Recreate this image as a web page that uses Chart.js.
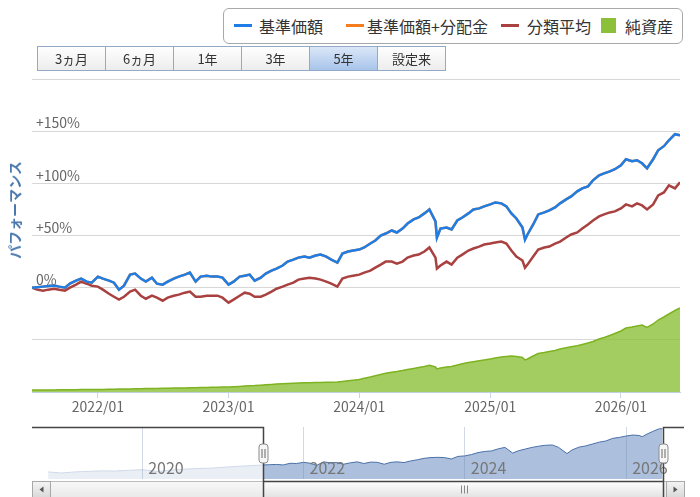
<!DOCTYPE html>
<html lang="ja">
<head>
<meta charset="utf-8">
<script src="https://cdn.jsdelivr.net/npm/chart.js@4.4.1/dist/chart.umd.min.js"></script>
<style>
  body { margin: 0; background: #fff; font-family: 'Noto Sans CJK JP', 'Noto Sans', sans-serif; }
  #wrap { position: relative; width: 700px; height: 497px; overflow: hidden; }
  #main { position: absolute; left: 0; top: 0; }
  #nav { position: absolute; left: 0; top: 420px; }
  .legend { position: absolute; left: 223px; top: 8px; width: 458px; height: 34px;
            border: 1px solid #a8a8a8; border-radius: 6px; font-size: 16px; color: #333; z-index: 2; background: #fff; }
  .legend .it { position: absolute; top: 0; line-height: 34px; white-space: nowrap; }
  .legend .ln { position: absolute; top: 15px; width: 18px; height: 3px; }
  .legend .sq { position: absolute; top: 9px; width: 15px; height: 15px; }
  .btns { position: absolute; left: 38px; top: 46px; display: flex; z-index: 2; }
  .btns div { width: 67px; height: 23px; line-height: 23px; text-align: center; font-size: 13px; color: #333;
              border: 1px solid #93a9c8; margin-left: -1px; background: linear-gradient(#fefefe, #ededed); }
  .btns div.on { background: linear-gradient(#dbe7f8, #a8c4ea); }
  .ytitle { position: absolute; left: 14px; top: 210px; transform: translate(-50%, -50%) rotate(-90deg);
            white-space: nowrap; font-size: 14px; font-weight: bold; color: #4a78ad; z-index: 2; }
</style>
</head>
<body>
<div id="wrap">
  <canvas id="main" width="700" height="420"></canvas>
  <canvas id="nav" width="700" height="77"></canvas>
  <div class="legend">
    <i class="ln" style="left:10px;background:#1f7ee6"></i><span class="it" style="left:35px">基準価額</span>
    <i class="ln" style="left:122px;background:#f47d20"></i><span class="it" style="left:143px">基準価額+分配金</span>
    <i class="ln" style="left:277px;background:#a8413f"></i><span class="it" style="left:303px">分類平均</span>
    <i class="sq" style="left:377px;background:#8dc03a"></i><span class="it" style="left:401px">純資産</span>
  </div>
  <div class="btns">
    <div>3ヵ月</div><div>6ヵ月</div><div>1年</div><div>3年</div><div class="on">5年</div><div>設定来</div>
  </div>
  <div class="ytitle">パフォーマンス</div>
</div>
<script>
const F = "'Noto Sans CJK JP', 'Noto Sans', sans-serif";
Chart.defaults.font.family = F;

// semi-monthly dates, plus the two sharp dips
const dates = [
  '2021-07-01','2021-07-15','2021-08-01','2021-08-15','2021-09-01','2021-09-15','2021-10-01','2021-10-15','2021-11-01','2021-11-15','2021-12-01','2021-12-15',
  '2022-01-01','2022-01-15','2022-02-01','2022-02-15','2022-03-01','2022-03-15','2022-04-01','2022-04-15','2022-05-01','2022-05-15','2022-06-01','2022-06-15',
  '2022-07-01','2022-07-15','2022-08-01','2022-08-15','2022-09-01','2022-09-15','2022-10-01','2022-10-15','2022-11-01','2022-11-15','2022-12-01','2022-12-15',
  '2023-01-01','2023-01-15','2023-02-01','2023-02-15','2023-03-01','2023-03-15','2023-04-01','2023-04-15','2023-05-01','2023-05-15','2023-06-01','2023-06-15',
  '2023-07-01','2023-07-15','2023-08-01','2023-08-15','2023-09-01','2023-09-15','2023-10-01','2023-10-15','2023-11-01','2023-11-15','2023-12-01','2023-12-15',
  '2024-01-01','2024-01-15','2024-02-01','2024-02-15','2024-03-01','2024-03-15','2024-04-01','2024-04-15','2024-05-01','2024-05-15','2024-06-01','2024-06-15',
  '2024-07-01','2024-07-15','2024-08-01','2024-08-05','2024-08-15','2024-09-01','2024-09-15','2024-10-01','2024-10-15','2024-11-01','2024-11-15','2024-12-01','2024-12-15',
  '2025-01-01','2025-01-15','2025-02-01','2025-02-15','2025-03-01','2025-03-15','2025-04-01','2025-04-08','2025-04-15','2025-05-01','2025-05-15','2025-06-01','2025-06-15',
  '2025-07-01','2025-07-15','2025-08-01','2025-08-15','2025-09-01','2025-09-15','2025-10-01','2025-10-15','2025-11-01','2025-11-15','2025-12-01','2025-12-15',
  '2026-01-01','2026-01-15','2026-02-01','2026-02-15','2026-03-01','2026-03-15','2026-04-01','2026-04-15','2026-05-01','2026-05-15','2026-06-01','2026-06-15'
];

// 基準価額 騰落率 (%)
const fundPct = [
  0, 0.5, 1, 1.5, 2, 1, 0, 4, 6.7, 8.7, 5.8, 4.8,
  10.6, 8.7, 6.7, 4.8, -1.9, 1.9, 12.5, 13.5, 8.7, 5.8, 9.6, 3.8,
  2.9, 5.8, 8.7, 10.6, 12.5, 14.4, 5.8, 10.6, 11.5, 10.6, 10.6, 9.6,
  2.9, 5.8, 10.6, 11.5, 12.5, 6.7, 9.6, 13.5, 16.3, 18.3, 21.2, 25,
  26.9, 28.8, 29.8, 28.8, 30.8, 31.7, 29.8, 26.9, 24, 32.7, 34.6, 35.6,
  36.5, 38.5, 42.3, 45.2, 50, 51.9, 54.8, 52.9, 56.7, 61.5, 65.4, 67.3,
  71.2, 75, 63.5, 48, 56.7, 57.7, 55.8, 64.4, 67.3, 71.2, 75, 76, 77.9,
  79.8, 81.7, 80.8, 77.9, 71.2, 66.3, 57.7, 46, 51, 60.6, 70.2, 72.1, 74,
  76.9, 80.8, 84.6, 87.5, 92.3, 95.2, 97.1, 102.9, 107.7, 109.6, 111.5, 113.5,
  117.3, 123.1, 121.2, 122.1, 119.2, 114.4, 123.1, 131.7, 135.6, 141.3, 147.1, 146
];
// 基準価額+分配金 (no distributions paid, so it sits under the 基準価額 line)
const withDistPct = fundPct.slice();

// 分類平均 (%)
const categoryPct = [
  0, -1.9, -2.9, -1.9, -1, -1.9, -2.9, 0, 2.9, 5.8, 3.8, 1.9,
  1, -1.9, -5.8, -8.7, -11.5, -8.7, -3.8, -1.9, -7.7, -10.6, -7.7, -9.6,
  -12.5, -9.6, -7.7, -6.7, -4.8, -3.8, -8.7, -8.7, -7.7, -7.7, -7.7, -9.6,
  -14.4, -11.5, -7.7, -4.8, -5.8, -8.7, -8.7, -6.7, -3.8, -1, 1, 2.9,
  4.8, 7.7, 8.7, 9.6, 8.7, 7.7, 5.8, 3.8, 1, 8.7, 10.6, 11.5,
  12.5, 14.4, 16.3, 19.2, 22.1, 25, 25, 23.1, 25, 28.8, 30.8, 31.7,
  34.6, 38.5, 28.8, 18.3, 21.2, 25, 22.1, 28.8, 31.7, 35.6, 37.5, 39.4, 41.3,
  42.3, 43.3, 44.2, 42.3, 35.6, 29.8, 26, 19.2, 22.1, 29.8, 36.5, 38.5, 39.4,
  42.3, 44.2, 48.1, 51, 52.9, 56.7, 60.6, 64.4, 68.3, 70.2, 72.1, 73.1,
  76, 79.8, 77.9, 80.8, 78.8, 75, 79.8, 88.5, 91.3, 98.1, 95.2, 101
];

// 純資産 (億円)
const netAssets = [
  77, 77, 77, 81, 81, 84, 84, 88, 88, 92, 92, 96,
  96, 100, 104, 107, 111, 115, 119, 123, 127, 130, 134, 138,
  142, 146, 150, 153, 157, 161, 165, 169, 176, 180, 184, 188,
  192, 203, 215, 226, 238, 245, 261, 276, 291, 307, 318, 330,
  337, 345, 353, 357, 364, 368, 372, 376, 383, 406, 429, 452,
  479, 529, 575, 625, 671, 717, 759, 786, 824, 863, 905, 939,
  978, 1028, 959, 882, 920, 959, 978, 1035, 1081, 1131, 1162, 1196, 1227,
  1265, 1304, 1342, 1365, 1380, 1361, 1323, 1227, 1265, 1380, 1476, 1514, 1553,
  1591, 1649, 1695, 1737, 1771, 1821, 1879, 1936, 2032, 2090, 2166, 2243,
  2339, 2454, 2492, 2530, 2569, 2473, 2607, 2760, 2876, 2990, 3125, 3221
];

const yearTicks = [2022, 2023, 2024, 2025, 2026];
const perfTicks = [-100, -50, 0, 50, 100, 150, 200];

// navigator: 基準価額 (円) since inception
const navDates = [
  '2018-11-01','2019-01-01','2019-03-01','2019-05-01','2019-07-01','2019-09-01','2019-11-01',
  '2020-01-01','2020-03-15','2020-05-01','2020-07-01','2020-09-01','2020-11-01',
  '2021-01-01','2021-03-01','2021-05-01','2021-07-01','2021-08-01','2021-09-01','2021-10-01','2021-11-01','2021-12-01',
  '2022-01-01','2022-02-01','2022-03-01','2022-04-01','2022-05-01','2022-06-01','2022-07-01','2022-08-01','2022-09-01','2022-10-01','2022-11-01','2022-12-01',
  '2023-01-01','2023-02-01','2023-03-01','2023-04-01','2023-05-01','2023-06-01','2023-07-01','2023-08-01','2023-09-01','2023-10-01','2023-11-01','2023-12-01',
  '2024-01-01','2024-02-01','2024-03-01','2024-04-01','2024-05-01','2024-06-01','2024-07-01','2024-08-05','2024-09-01','2024-10-01','2024-11-01','2024-12-01',
  '2025-01-01','2025-02-01','2025-03-01','2025-04-08','2025-05-01','2025-06-01','2025-07-01','2025-08-01','2025-09-01','2025-10-01','2025-11-01','2025-12-01',
  '2026-01-01','2026-02-01','2026-03-01','2026-03-15','2026-04-01','2026-05-01','2026-06-01','2026-06-15'
];
const navPrice = [
  10000, 9400, 10000, 10300, 10600, 10500, 10900,
  11300, 10200, 11000, 11500, 11900, 12100,
  12600, 13100, 13500, 13950, 14090, 14230, 13950, 14880, 14760,
  15430, 14880, 13690, 15690, 15160, 15290, 14350, 15160, 15690, 14760, 15550, 15430,
  14350, 15430, 15690, 15290, 16220, 16910, 17700, 18110, 18250, 18110, 17300, 18780,
  19040, 19850, 20930, 21590, 21860, 23070, 23880, 20650, 22000, 22930, 23880, 24550,
  25080, 25220, 23880, 20370, 22400, 24010, 24680, 25750, 26830, 27500, 28970, 29500,
  30310, 30860, 30580, 29910, 31120, 32870, 34470, 34320
];
const navYears = [2020, 2022, 2024, 2026];

const ts = d => Date.parse(d);
const toPts = vals => vals.map((v, i) => ({ x: ts(dates[i]), y: v }));

new Chart(document.getElementById('main'), {
  type: 'line',
  data: {
    datasets: [
      { label: '基準価額', data: toPts(fundPct), yAxisID: 'y', borderColor: '#1f7ee6', borderWidth: 2.5, pointRadius: 0, tension: 0 },
      { label: '基準価額+分配金', data: toPts(withDistPct), yAxisID: 'y', borderColor: '#f47d20', borderWidth: 2.5, pointRadius: 0, tension: 0 },
      { label: '分類平均', data: toPts(categoryPct), yAxisID: 'y', borderColor: '#a8413f', borderWidth: 2.5, pointRadius: 0, tension: 0 },
      { label: '純資産', data: toPts(netAssets), yAxisID: 'y2', borderColor: '#7db320', borderWidth: 1.5,
        backgroundColor: 'rgba(141,192,58,0.8)', fill: 'start', pointRadius: 0, tension: 0 }
    ]
  },
  options: {
    responsive: false,
    animation: false,
    layout: { padding: { top: 79, right: 20, left: 0, bottom: 0 } },
    plugins: { legend: { display: false }, tooltip: { enabled: false } },
    scales: {
      x: {
        type: 'linear',
        min: ts(dates[0]),
        max: ts(dates[dates.length - 1]),
        afterBuildTicks: s => { s.ticks = yearTicks.map(y => ({ value: ts(y + '-01-01') })); },
        afterFit: s => { s.height = 28; },
        grid: { drawOnChartArea: false, tickLength: 6, color: '#c8d4e2' },
        border: { display: true, color: '#c0d0e0' },
        ticks: { callback: v => new Date(v).getUTCFullYear() + '/01', color: '#666', font: { size: 14 }, padding: 0, maxRotation: 0, autoSkip: false }
      },
      y: {
        min: -100,
        max: 200,
        afterBuildTicks: s => { s.ticks = perfTicks.map(v => ({ value: v })); },
        afterFit: s => { s.width = 32; },
        grid: { color: '#d8d8d8', drawTicks: false },
        border: { display: false },
        ticks: {
          mirror: true, padding: 4, labelOffset: -8, color: '#666', font: { size: 14 },
          callback: v => (v < 0 || v > 150) ? '' : (v > 0 ? '+' + v + '%' : '0%')
        }
      },
      y2: { display: false, min: 0, max: 12000 }
    }
  }
});

// navigator mask, outline, handles and scrollbar
const navParts = {
  id: 'navParts',
  afterDatasetsDraw(chart) {
    const { ctx, chartArea: a, scales: { x } } = chart;
    const L = x.getPixelForValue(ts(dates[0]));
    const R = x.getPixelForValue(ts(dates[dates.length - 1]));
    ctx.save();
    ctx.fillStyle = 'rgba(255,255,255,0.74)';
    ctx.fillRect(a.left, a.top - 1, L - a.left, a.bottom - a.top + 2);
    ctx.fillRect(R, a.top - 1, a.right - R, a.bottom - a.top + 2);
    ctx.restore();
  },
  afterDraw(chart) {
    const { ctx, chartArea: a, scales: { x } } = chart;
    const L = Math.round(x.getPixelForValue(ts(dates[0]))) + 0.5;
    const R = Math.round(x.getPixelForValue(ts(dates[dates.length - 1]))) + 0.5;
    const sy = a.bottom + 2.5, sh = 16;
    ctx.save();
    // scrollbar track
    let g = ctx.createLinearGradient(0, sy, 0, sy + sh);
    g.addColorStop(0, '#f8f8f8'); g.addColorStop(1, '#e9e9e9');
    ctx.fillStyle = g; ctx.strokeStyle = '#bbb'; ctx.lineWidth = 1;
    ctx.fillRect(a.left + 0.5, sy, a.right - a.left, sh);
    ctx.strokeRect(a.left + 0.5, sy, a.right - a.left, sh);
    // thumb
    g = ctx.createLinearGradient(0, sy, 0, sy + sh);
    g.addColorStop(0, '#ffffff'); g.addColorStop(1, '#e2e2e2');
    ctx.fillStyle = g; ctx.strokeStyle = '#a0a0a0';
    ctx.fillRect(L, sy, R - L, sh); ctx.strokeRect(L, sy, R - L, sh);
    ctx.strokeStyle = '#888';
    const mid = Math.round((L + R) / 2) + 0.5;
    ctx.beginPath();
    [-3, 0, 3].forEach(d => { ctx.moveTo(mid + d, sy + 4); ctx.lineTo(mid + d, sy + sh - 4); });
    ctx.stroke();
    // arrow buttons
    [[a.left + 0.5, -1], [a.right - 17.5, 1]].forEach(([bx, dir]) => {
      const bg = ctx.createLinearGradient(0, sy, 0, sy + sh);
      bg.addColorStop(0, '#f4f4f4'); bg.addColorStop(1, '#d9d9d9');
      ctx.fillStyle = bg; ctx.strokeStyle = '#a8a8a8';
      ctx.fillRect(bx, sy, 18, sh); ctx.strokeRect(bx, sy, 18, sh);
      const cx = bx + 9, cy = sy + sh / 2;
      ctx.fillStyle = '#555';
      ctx.beginPath();
      ctx.moveTo(cx + 2 * dir, cy); ctx.lineTo(cx - 2 * dir, cy - 3); ctx.lineTo(cx - 2 * dir, cy + 3);
      ctx.closePath(); ctx.fill();
    });
    // outline
    ctx.strokeStyle = '#444'; ctx.lineWidth = 1.5;
    ctx.beginPath();
    ctx.moveTo(a.left, a.top + 0.5); ctx.lineTo(L, a.top + 0.5); ctx.lineTo(L, sy + sh);
    ctx.moveTo(L, sy); ctx.lineTo(R, sy);
    ctx.moveTo(R, sy + sh); ctx.lineTo(R, a.top + 0.5); ctx.lineTo(a.right, a.top + 0.5);
    ctx.stroke();
    // handles
    [L, R].forEach(hx => {
      const w = 9, h = 19, top = a.top + 17;
      ctx.fillStyle = '#f6f6f6'; ctx.strokeStyle = '#8a8a8a'; ctx.lineWidth = 1;
      ctx.beginPath();
      ctx.roundRect(hx - w / 2, top, w, h, 3);
      ctx.fill(); ctx.stroke();
      ctx.strokeStyle = '#666';
      ctx.beginPath();
      ctx.moveTo(hx - 1.5, top + 5); ctx.lineTo(hx - 1.5, top + h - 5);
      ctx.moveTo(hx + 1.5, top + 5); ctx.lineTo(hx + 1.5, top + h - 5);
      ctx.stroke();
    });
    ctx.restore();
  }
};

new Chart(document.getElementById('nav'), {
  type: 'line',
  data: {
    datasets: [{
      data: navPrice.map((v, i) => ({ x: ts(navDates[i]), y: v })),
      borderColor: '#4a70a8', borderWidth: 1, backgroundColor: '#acc0dd', fill: 'start', pointRadius: 0, tension: 0
    }]
  },
  options: {
    responsive: false,
    animation: false,
    layout: { padding: { left: 32, right: 16, top: 7, bottom: 18 } },
    plugins: { legend: { display: false }, tooltip: { enabled: false } },
    scales: {
      x: {
        type: 'linear',
        min: ts('2018-08-20'),
        max: ts('2026-09-20'),
        afterBuildTicks: s => { s.ticks = navYears.map(y => ({ value: ts(y + '-01-01') })); },
        afterFit: s => { s.height = 0; },
        grid: { color: 'rgba(110,130,165,0.3)', drawTicks: false, z: 1 },
        border: { display: false },
        ticks: { z: 1, mirror: true, align: 'start', padding: 1, labelOffset: 6, color: '#777', font: { size: 16 }, maxRotation: 0, autoSkip: false,
                 callback: v => String(new Date(v).getUTCFullYear()) }
      },
      y: { display: false, min: 6000, max: 35400 }
    }
  },
  plugins: [navParts]
});
</script>
</body>
</html>
